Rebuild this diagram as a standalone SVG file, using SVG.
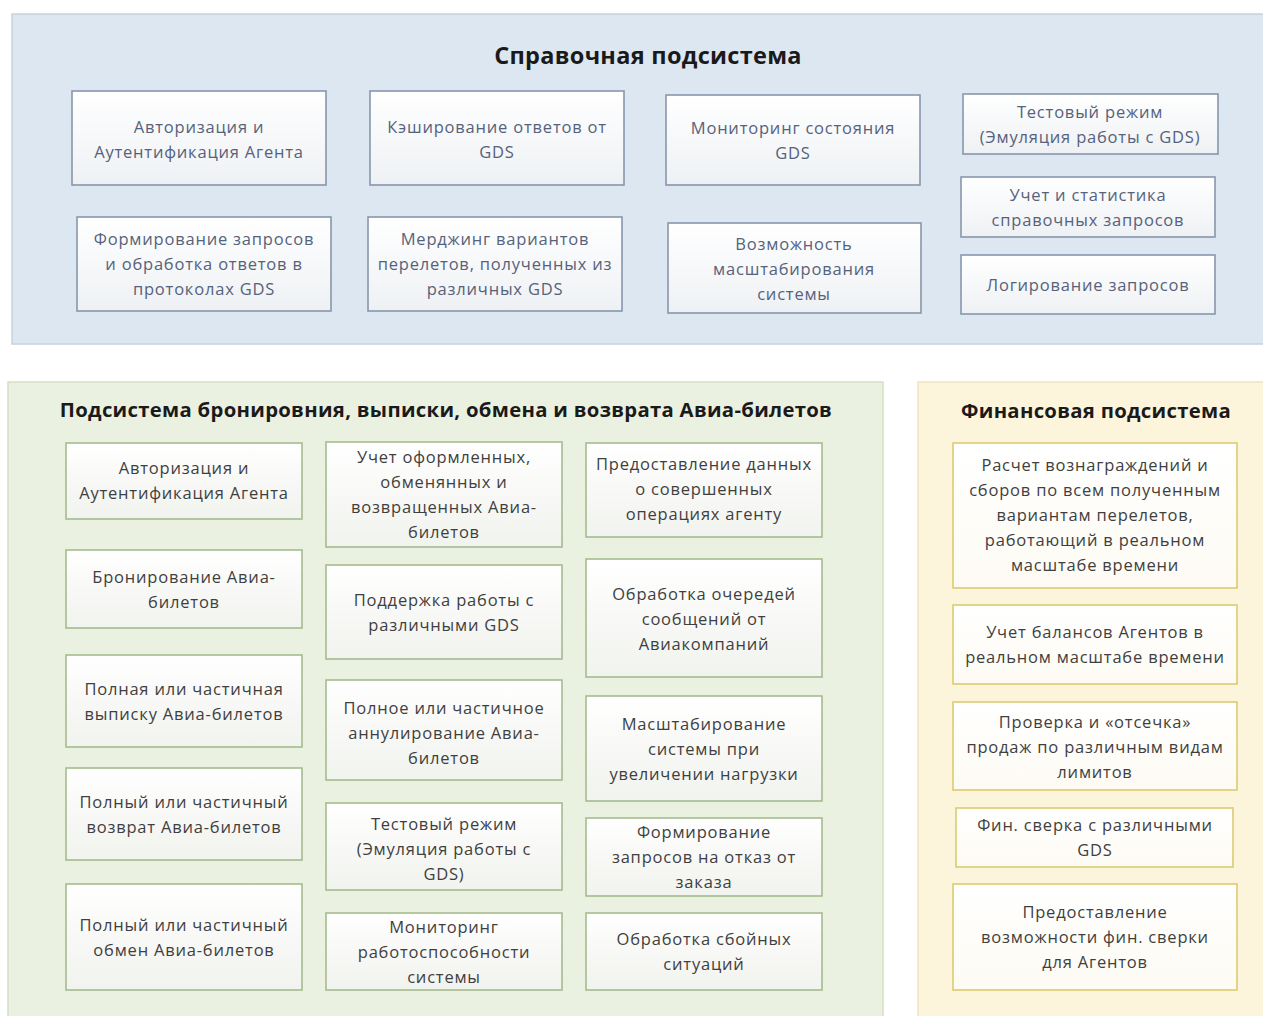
<svg xmlns="http://www.w3.org/2000/svg" width="1263" height="1016" viewBox="0 0 1263 1016">
<defs>
<linearGradient id="bg" x1="0" y1="0" x2="0" y2="1"><stop offset="0" stop-color="#ffffff"/><stop offset="1" stop-color="#eef1f4"/></linearGradient>
<linearGradient id="gg" x1="0" y1="0" x2="0" y2="1"><stop offset="0" stop-color="#ffffff"/><stop offset="1" stop-color="#f1f3ee"/></linearGradient>
<linearGradient id="yg" x1="0" y1="0" x2="0" y2="1"><stop offset="0" stop-color="#ffffff"/><stop offset="1" stop-color="#fdfbf3"/></linearGradient>
<style>
text{font-family:"Open Sans","Noto Sans","DejaVu Sans",sans-serif;font-size:16.5px;text-anchor:middle;letter-spacing:0.8px;}
.title{font-weight:bold;fill:#1a1a1a;letter-spacing:0.3px;}
.bb{fill:url(#bg);stroke:#8797ab;stroke-width:1.6;}
.gb{fill:url(#gg);stroke:#a6bb8e;stroke-width:1.6;}
.yb{fill:url(#yg);stroke:#dccb70;stroke-width:1.6;}
.bt{fill:#56627a;}
.gt{fill:#3f3f3f;}
.yt{fill:#3f3f3f;}
</style>
</defs>
<rect width="1263" height="1016" fill="#ffffff"/>
<g id="panel-ref">
<rect x="12" y="14" width="1260" height="330" fill="#dde7f2" stroke="#c8d2dd" stroke-width="1.5"/>
<text class="title" x="648" y="64" style="font-size:23.5px">Справочная подсистема</text>
</g>
<g id="panel-book">
<rect x="8" y="382" width="875" height="650" fill="#ebf1e0" stroke="#d5dfc5" stroke-width="1.5"/>
<text class="title" x="446" y="417" style="font-size:20.3px">Подсистема бронировния, выписки, обмена и возврата Авиа-билетов</text>
</g>
<g id="panel-fin">
<rect x="918" y="382" width="360" height="650" fill="#fdf4dc" stroke="#efe3bd" stroke-width="1.5"/>
<text class="title" x="1096" y="418" style="font-size:20.3px">Финансовая подсистема</text>
</g>
<g id="connectors"></g>

<g id="b1"><rect class="bb" x="72" y="91" width="254" height="94"/><text class="bt"><tspan x="199" y="133">Авторизация и</tspan><tspan x="199" y="158">Аутентификация Агента</tspan></text></g>
<g id="b2"><rect class="bb" x="370" y="91" width="254" height="94"/><text class="bt"><tspan x="497" y="133">Кэширование ответов от</tspan><tspan x="497" y="158">GDS</tspan></text></g>
<g id="b3"><rect class="bb" x="666" y="95" width="254" height="90"/><text class="bt"><tspan x="793" y="134">Мониторинг состояния</tspan><tspan x="793" y="159">GDS</tspan></text></g>
<g id="b4"><rect class="bb" x="963" y="94" width="255" height="60"/><text class="bt"><tspan x="1090" y="118">Тестовый режим</tspan><tspan x="1090" y="143">(Эмуляция работы с GDS)</tspan></text></g>
<g id="b5"><rect class="bb" x="77" y="217" width="254" height="94"/><text class="bt"><tspan x="204" y="245">Формирование запросов</tspan><tspan x="204" y="270">и обработка ответов в</tspan><tspan x="204" y="295">протоколах GDS</tspan></text></g>
<g id="b6"><rect class="bb" x="368" y="217" width="254" height="94"/><text class="bt"><tspan x="495" y="245">Мерджинг вариантов</tspan><tspan x="495" y="270">перелетов, полученных из</tspan><tspan x="495" y="295">различных GDS</tspan></text></g>
<g id="b7"><rect class="bb" x="668" y="223" width="253" height="90"/><text class="bt"><tspan x="794" y="250">Возможность</tspan><tspan x="794" y="275">масштабирования</tspan><tspan x="794" y="300">системы</tspan></text></g>
<g id="b8"><rect class="bb" x="961" y="177" width="254" height="60"/><text class="bt"><tspan x="1088" y="201">Учет и статистика</tspan><tspan x="1088" y="226">справочных запросов</tspan></text></g>
<g id="b9"><rect class="bb" x="961" y="255" width="254" height="59"/><text class="bt"><tspan x="1088" y="291">Логирование запросов</tspan></text></g>

<g id="g1"><rect class="gb" x="66" y="443" width="236" height="76"/><text class="gt"><tspan x="184" y="474">Авторизация и</tspan><tspan x="184" y="499">Аутентификация Агента</tspan></text></g>
<g id="g2"><rect class="gb" x="66" y="550" width="236" height="78"/><text class="gt"><tspan x="184" y="583">Бронирование Авиа-</tspan><tspan x="184" y="608">билетов</tspan></text></g>
<g id="g3"><rect class="gb" x="66" y="655" width="236" height="92"/><text class="gt"><tspan x="184" y="695">Полная или частичная</tspan><tspan x="184" y="720">выписку Авиа-билетов</tspan></text></g>
<g id="g4"><rect class="gb" x="66" y="768" width="236" height="92"/><text class="gt"><tspan x="184" y="808">Полный или частичный</tspan><tspan x="184" y="833">возврат Авиа-билетов</tspan></text></g>
<g id="g5"><rect class="gb" x="66" y="884" width="236" height="106"/><text class="gt"><tspan x="184" y="931">Полный или частичный</tspan><tspan x="184" y="956">обмен Авиа-билетов</tspan></text></g>

<g id="g6"><rect class="gb" x="326" y="442" width="236" height="105"/><text class="gt"><tspan x="444" y="463">Учет оформленных,</tspan><tspan x="444" y="488">обменянных и</tspan><tspan x="444" y="513">возвращенных Авиа-</tspan><tspan x="444" y="538">билетов</tspan></text></g>
<g id="g7"><rect class="gb" x="326" y="565" width="236" height="94"/><text class="gt"><tspan x="444" y="606">Поддержка работы с</tspan><tspan x="444" y="631">различными GDS</tspan></text></g>
<g id="g8"><rect class="gb" x="326" y="680" width="236" height="100"/><text class="gt"><tspan x="444" y="714">Полное или частичное</tspan><tspan x="444" y="739">аннулирование Авиа-</tspan><tspan x="444" y="764">билетов</tspan></text></g>
<g id="g9"><rect class="gb" x="326" y="803" width="236" height="87"/><text class="gt"><tspan x="444" y="830">Тестовый режим</tspan><tspan x="444" y="855">(Эмуляция работы с</tspan><tspan x="444" y="880">GDS)</tspan></text></g>
<g id="g10"><rect class="gb" x="326" y="913" width="236" height="77"/><text class="gt"><tspan x="444" y="933">Мониторинг</tspan><tspan x="444" y="958">работоспособности</tspan><tspan x="444" y="983">системы</tspan></text></g>

<g id="g11"><rect class="gb" x="586" y="443" width="236" height="94"/><text class="gt"><tspan x="704" y="470">Предоставление данных</tspan><tspan x="704" y="495">о совершенных</tspan><tspan x="704" y="520">операциях агенту</tspan></text></g>
<g id="g12"><rect class="gb" x="586" y="559" width="236" height="118"/><text class="gt"><tspan x="704" y="600">Обработка очередей</tspan><tspan x="704" y="625">сообщений от</tspan><tspan x="704" y="650">Авиакомпаний</tspan></text></g>
<g id="g13"><rect class="gb" x="586" y="696" width="236" height="105"/><text class="gt"><tspan x="704" y="730">Масштабирование</tspan><tspan x="704" y="755">системы при</tspan><tspan x="704" y="780">увеличении нагрузки</tspan></text></g>
<g id="g14"><rect class="gb" x="586" y="818" width="236" height="78"/><text class="gt"><tspan x="704" y="838">Формирование</tspan><tspan x="704" y="863">запросов на отказ от</tspan><tspan x="704" y="888">заказа</tspan></text></g>
<g id="g15"><rect class="gb" x="586" y="913" width="236" height="77"/><text class="gt"><tspan x="704" y="945">Обработка сбойных</tspan><tspan x="704" y="970">ситуаций</tspan></text></g>

<g id="y1"><rect class="yb" x="953" y="443" width="284" height="145"/><text class="yt"><tspan x="1095" y="471">Расчет вознаграждений и</tspan><tspan x="1095" y="496">сборов по всем полученным</tspan><tspan x="1095" y="521">вариантам перелетов,</tspan><tspan x="1095" y="546">работающий в реальном</tspan><tspan x="1095" y="571">масштабе времени</tspan></text></g>
<g id="y2"><rect class="yb" x="953" y="605" width="284" height="79"/><text class="yt"><tspan x="1095" y="638">Учет балансов Агентов в</tspan><tspan x="1095" y="663">реальном масштабе времени</tspan></text></g>
<g id="y3"><rect class="yb" x="953" y="702" width="284" height="88"/><text class="yt"><tspan x="1095" y="728">Проверка и «отсечка»</tspan><tspan x="1095" y="753">продаж по различным видам</tspan><tspan x="1095" y="778">лимитов</tspan></text></g>
<g id="y4"><rect class="yb" x="956" y="808" width="277" height="59"/><text class="yt"><tspan x="1095" y="831">Фин. сверка с различными</tspan><tspan x="1095" y="856">GDS</tspan></text></g>
<g id="y5"><rect class="yb" x="953" y="884" width="284" height="106"/><text class="yt"><tspan x="1095" y="918">Предоставление</tspan><tspan x="1095" y="943">возможности фин. сверки</tspan><tspan x="1095" y="968">для Агентов</tspan></text></g>
</svg>
